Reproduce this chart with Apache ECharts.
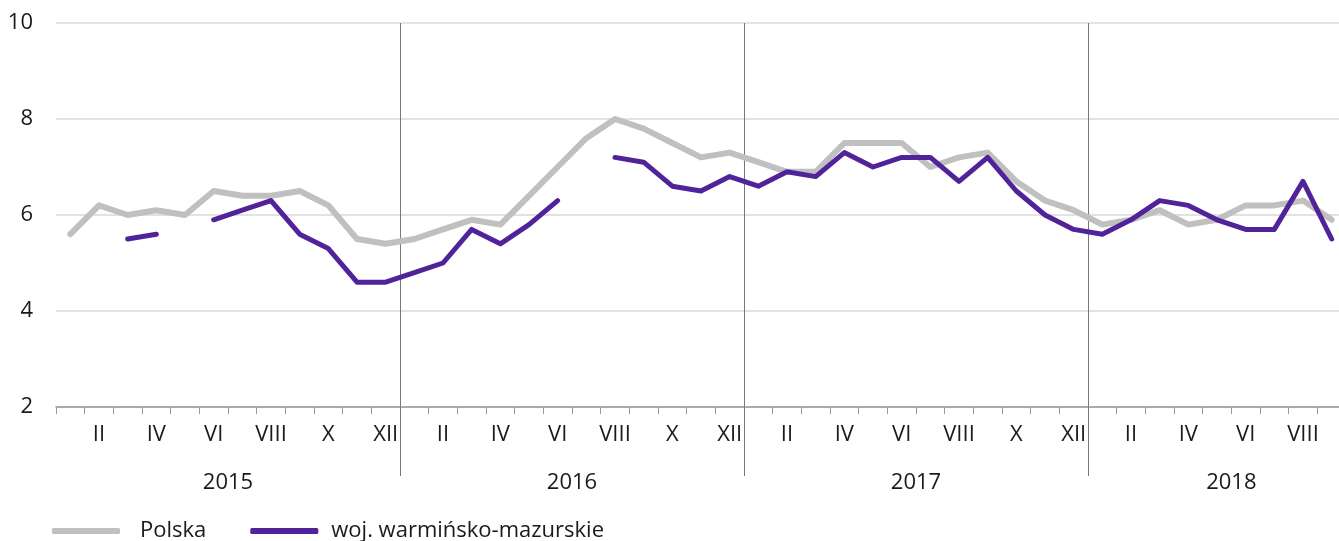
<!DOCTYPE html>
<html>
<head>
<meta charset="utf-8">
<script src="https://cdn.jsdelivr.net/npm/echarts@6/dist/echarts.min.js"></script>
<style>
  html, body { margin: 0; padding: 0; background: #fff; overflow: hidden; }
  #chart { width: 1346px; height: 541px; }
</style>
</head>
<body>
<div id="chart"></div>
<script>
// miesiace (rzymskie) dla kolejnych lat 2015 - 2018 (do IX)
var romans = ['I', 'II', 'III', 'IV', 'V', 'VI', 'VII', 'VIII', 'IX', 'X', 'XI', 'XII'];
var years = ['2015', '2016', '2017', '2018'];
var yearMonths = [12, 12, 12, 9];

// Polska
var polska = [
    5.6, 6.2, 6.0, 6.1, 6.0, 6.5, 6.4, 6.4, 6.5, 6.2, 5.5, 5.4,
    5.5, 5.7, 5.9, 5.8, 6.4, 7.0, 7.6, 8.0, 7.8, 7.5, 7.2, 7.3,
    7.1, 6.9, 6.9, 7.5, 7.5, 7.5, 7.0, 7.2, 7.3, 6.7, 6.3, 6.1,
    5.8, 5.9, 6.1, 5.8, 5.9, 6.2, 6.2, 6.3, 5.9
];

// woj. warminsko-mazurskie (brak danych = null)
var warmMaz = [
    null, null, 5.5, 5.6, null, 5.9, 6.1, 6.3, 5.6, 5.3, 4.6, 4.6,
    4.8, 5.0, 5.7, 5.4, 5.8, 6.3, null, 7.2, 7.1, 6.6, 6.5, 6.8,
    6.6, 6.9, 6.8, 7.3, 7.0, 7.2, 7.2, 6.7, 7.2, 6.5, 6.0, 5.7,
    5.6, 5.9, 6.3, 6.2, 5.9, 5.7, 5.7, 6.7, 5.5
];

var yTicks = [2, 4, 6, 8, 10];

// kategorie osi X
var categories = [];
years.forEach(function (y, i) {
    for (var m = 0; m < yearMonths[i]; m++) {
        categories.push(romans[m] + ' ' + y);
    }
});

// polozenie etykiet lat i separatorow (w jednostkach miesiecy)
var yearLabelPos = [6, 18, 30, 41];
var yearBreaks = [12, 24, 36];

var font = '"Open Sans", "Noto Sans", sans-serif';
var txt = '#1a1a1a';
var fs = 22;

var chart = echarts.init(document.getElementById('chart'));
var option = {
    animation: false,
    textStyle: { fontFamily: font },
    grid: { left: 56, right: 0, top: 23, bottom: 134 },
    legend: {
        data: [
            { name: 'Polska', textStyle: { padding: [0, 0, 0, 15] } },
            { name: 'woj. warmińsko-mazurskie', textStyle: { padding: [0, 0, 0, 8] } }
        ],
        left: 47,
        top: 515,
        icon: 'roundRect',
        itemWidth: 68,
        itemHeight: 6,
        itemGap: 44,
        textStyle: { fontSize: fs, color: txt, fontFamily: font }
    },
    xAxis: [
        {
            type: 'category',
            data: categories,
            boundaryGap: true,
            axisLine: { lineStyle: { color: '#999', width: 1.5 } },
            axisTick: { show: true, interval: 0, length: 7, lineStyle: { color: '#999' } },
            axisLabel: {
                interval: function (i) { return i % 12 % 2 === 1; },
                formatter: function (v) { return v.split(' ')[0]; },
                fontSize: fs,
                color: txt,
                margin: 17
            },
            splitLine: {
                show: true,
                interval: function (i) { return i > 0 && i % 12 === 0; },
                lineStyle: { color: '#777', width: 1 }
            }
        },
        {
            type: 'value',
            min: 0,
            max: 45,
            position: 'bottom',
            axisLine: { show: false },
            splitLine: { show: false },
            axisTick: {
                show: true,
                customValues: yearBreaks,
                length: 69,
                lineStyle: { color: '#777', width: 1 }
            },
            axisLabel: {
                customValues: yearLabelPos,
                formatter: function (v) { return years[yearLabelPos.indexOf(v)]; },
                fontSize: fs,
                color: txt,
                margin: 65
            }
        }
    ],
    yAxis: {
        type: 'value',
        min: yTicks[0],
        max: yTicks[yTicks.length - 1],
        interval: 2,
        axisLine: { show: false },
        axisTick: { show: false },
        axisLabel: { fontSize: fs, color: txt, margin: 23 },
        splitLine: { lineStyle: { color: '#d9d9d9', width: 1.5 } }
    },
    series: [
        {
            name: 'Polska',
            type: 'line',
            data: polska,
            symbol: 'none',
            color: '#c0c0c0',
            lineStyle: { width: 6, color: '#c0c0c0', cap: 'round', join: 'round' }
        },
        {
            name: 'woj. warmińsko-mazurskie',
            type: 'line',
            data: warmMaz,
            symbol: 'none',
            connectNulls: false,
            color: '#51239a',
            lineStyle: { width: 5, color: '#51239a', cap: 'round', join: 'round' }
        }
    ]
};
chart.setOption(option);
</script>
</body>
</html>
